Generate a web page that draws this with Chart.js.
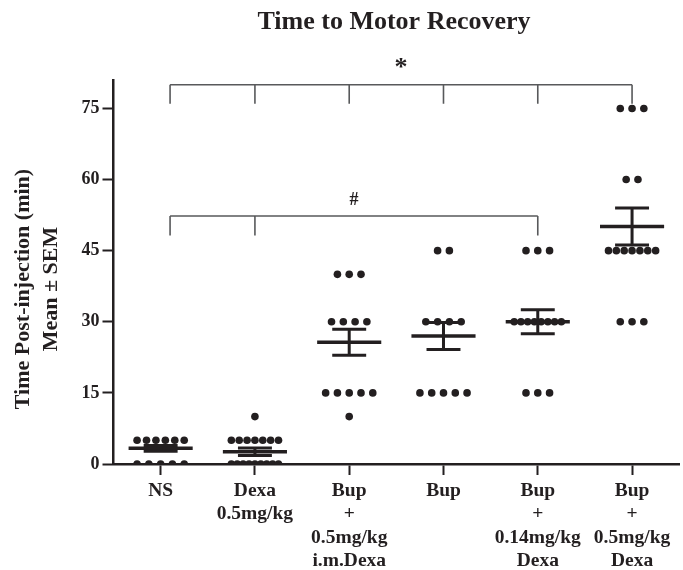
<!DOCTYPE html>
<html>
<head>
<meta charset="utf-8">
<script src="https://cdn.jsdelivr.net/npm/chart.js@4.4.1/dist/chart.umd.min.js"></script>
<style>
  html, body { margin: 0; padding: 0; background: #fff; }
</style>
</head>
<body>
<canvas id="motorChart" width="683" height="570"></canvas>
<script>
// Time to motor recovery - scatter dot plot with mean +/- SEM

const groupLabels = [
    ['NS'],
    ['Dexa', '0.5mg/kg'],
    ['Bup', '+', '0.5mg/kg', 'i.m.Dexa'],
    ['Bup'],
    ['Bup', '+', '0.14mg/kg', 'Dexa'],
    ['Bup', '+', '0.5mg/kg', 'Dexa']
];

const nsValues = [5, 5, 5, 5, 5, 5, 0, 0, 0, 0, 0];
const dexaValues = [10, 5, 5, 5, 5, 5, 5, 5, 0, 0, 0, 0, 0, 0, 0, 0, 0];
const bupImDexaValues = [40, 40, 40, 30, 30, 30, 30, 15, 15, 15, 15, 15, 10];
const bupValues = [45, 45, 30, 30, 30, 30, 15, 15, 15, 15, 15];
const bupDexa014Values = [45, 45, 45, 30, 30, 30, 30, 30, 30, 30, 30, 15, 15, 15];
const bupDexa05Values = [75, 75, 75, 60, 60, 45, 45, 45, 45, 45, 45, 45, 30, 30, 30];

const groupMeans = [3.3, 2.6, 25.7, 27.0, 30.0, 50.1];
const groupSems = [0.6, 0.8, 2.75, 2.85, 2.55, 3.9];

const yTicks = [0, 15, 30, 45, 60, 75];

// significance brackets
const starGroups = [0, 1, 2, 3, 4, 5];
const hashGroups = [0, 1, 4];
const starLevel = [80, 76];
const hashLevel = [52.3, 48.2];

const INK = '#231f20';
const SERIF = "'Liberation Serif', 'Times New Roman', serif";

const groupValues = [nsValues, dexaValues, bupImDexaValues, bupValues, bupDexa014Values, bupDexa05Values];

// spread dots sharing the same value side by side, like a dot plot
function spreadGroup(values, center) {
    const DOT_GAP = 0.125;
    const MAX_SPREAD = 0.5;
    const counts = {};
    values.forEach(v => { counts[v] = (counts[v] || 0) + 1; });
    const points = [];
    Object.keys(counts).forEach(key => {
        const n = counts[key];
        const gap = n > 1 ? Math.min(DOT_GAP, MAX_SPREAD / (n - 1)) : 0;
        for (let k = 0; k < n; k++) {
            points.push({ x: center + (k - (n - 1) / 2) * gap, y: Number(key) });
        }
    });
    return points;
}

const dotPoints = groupValues.flatMap((vals, i) => spreadGroup(vals, i));

const annotationsPlugin = {
    id: 'annotations',
    afterDatasetsDraw(chart) {
        const ctx = chart.ctx;
        const x = chart.scales.x;
        const y = chart.scales.y;

        // mean and SEM bars
        ctx.save();
        ctx.strokeStyle = INK;
        ctx.lineCap = 'butt';
        groupMeans.forEach((m, i) => {
            const s = groupSems[i];
            ctx.lineWidth = 3.5;
            ctx.beginPath();
            ctx.moveTo(x.getPixelForValue(i - 0.34), y.getPixelForValue(m));
            ctx.lineTo(x.getPixelForValue(i + 0.34), y.getPixelForValue(m));
            ctx.stroke();
            ctx.lineWidth = 3;
            ctx.beginPath();
            ctx.moveTo(x.getPixelForValue(i), y.getPixelForValue(m + s));
            ctx.lineTo(x.getPixelForValue(i), y.getPixelForValue(m - s));
            [m + s, m - s].forEach(v => {
                ctx.moveTo(x.getPixelForValue(i - 0.18), y.getPixelForValue(v));
                ctx.lineTo(x.getPixelForValue(i + 0.18), y.getPixelForValue(v));
            });
            ctx.stroke();
        });
        ctx.restore();

        // brackets
        const drawBracket = (groups, level, mark, fontSize, lift) => {
            const xs = groups.map((g, k) => x.getPixelForValue(k === 0 ? g + 0.1 : g));
            const top = y.getPixelForValue(level[0]);
            const bottom = y.getPixelForValue(level[1]);
            ctx.save();
            ctx.strokeStyle = '#58595b';
            ctx.lineWidth = 1.6;
            ctx.beginPath();
            ctx.moveTo(xs[0], top);
            ctx.lineTo(xs[xs.length - 1], top);
            xs.forEach(px => {
                ctx.moveTo(px, top);
                ctx.lineTo(px, bottom);
            });
            ctx.stroke();
            ctx.fillStyle = INK;
            ctx.font = `bold ${fontSize}px ${SERIF}`;
            ctx.textAlign = 'center';
            ctx.textBaseline = 'alphabetic';
            ctx.fillText(mark, (xs[0] + xs[xs.length - 1]) / 2, top - lift);
            ctx.restore();
        };
        drawBracket(starGroups, starLevel, '*', 26, 10);
        drawBracket(hashGroups, hashLevel, '#', 18, 11);
    },
    afterDraw(chart) {
        const ctx = chart.ctx;
        ctx.save();
        ctx.fillStyle = INK;
        ctx.textAlign = 'center';
        ctx.textBaseline = 'middle';
        ctx.font = `bold 26px ${SERIF}`;
        ctx.fillText('Time to Motor Recovery', 394, 22);

        ctx.translate(0, 289);
        ctx.rotate(-Math.PI / 2);
        ctx.font = `bold 22px ${SERIF}`;
        ctx.fillText('Time Post-injection (min)', 0, 23);
        ctx.fillText('Mean \u00b1 SEM', 0, 51);
        ctx.restore();
    }
};

new Chart(document.getElementById('motorChart'), {
    type: 'scatter',
    plugins: [annotationsPlugin],
    data: {
        datasets: [{
            data: dotPoints,
            backgroundColor: INK,
            borderWidth: 0,
            pointRadius: 3.8,
            pointHoverRadius: 3.8
        }]
    },
    options: {
        responsive: false,
        animation: false,
        devicePixelRatio: 1,
        layout: {
            padding: { top: 80, left: 0, right: 0, bottom: 0 }
        },
        plugins: {
            legend: { display: false },
            title: { display: false },
            tooltip: { enabled: false }
        },
        scales: {
            x: {
                type: 'linear',
                min: -0.5,
                max: 5.5,
                afterBuildTicks: scale => {
                    scale.ticks = groupLabels.map((_, i) => ({ value: i }));
                },
                afterFit: scale => { scale.height = 106; },
                grid: {
                    drawOnChartArea: false,
                    tickLength: 11,
                    tickWidth: 2,
                    tickColor: INK
                },
                border: { color: INK, width: 2.5 },
                ticks: {
                    autoSkip: false,
                    maxRotation: 0,
                    padding: 4,
                    color: INK,
                    font: { family: SERIF, size: 19.5, weight: 'bold' },
                    callback: value => groupLabels[value]
                }
            },
            y: {
                min: 0,
                max: 81,
                afterBuildTicks: scale => {
                    scale.ticks = yTicks.map(v => ({ value: v }));
                },
                afterFit: scale => { scale.width = 113.5; },
                grid: {
                    drawOnChartArea: false,
                    tickLength: 11,
                    tickWidth: 2,
                    tickColor: INK
                },
                border: { color: INK, width: 2.5 },
                ticks: {
                    padding: 3,
                    color: INK,
                    font: { family: SERIF, size: 18, weight: 'bold' }
                }
            }
        }
    }
});
</script>
</body>
</html>
